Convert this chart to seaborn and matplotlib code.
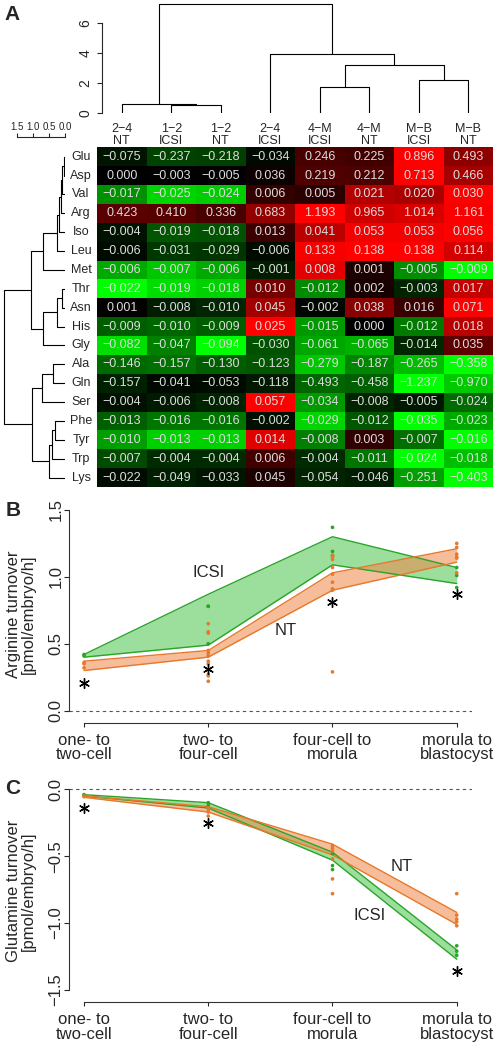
import numpy as np
import pandas as pd
import matplotlib.pyplot as plt
from matplotlib.colors import LinearSegmentedColormap
import seaborn as sns

sns.set_style("ticks")
plt.rcParams.update({
    "font.family": ["Liberation Sans", "DejaVu Sans"],
    "axes.linewidth": 0.8,
    "xtick.major.width": 0.8,
    "ytick.major.width": 0.8,
    "axes.unicode_minus": True,
})

W, H = 498, 1051

# ---- panel A data ----
samples = ["2−4\nNT", "1−2\nICSI", "1−2\nNT", "2−4\nICSI",
           "4−M\nICSI", "4−M\nNT", "M−B\nICSI", "M−B\nNT"]
amino_acids = ["Glu", "Asp", "Val", "Arg", "Iso", "Leu", "Met", "Thr", "Asn",
               "His", "Gly", "Ala", "Gln", "Ser", "Phe", "Tyr", "Trp", "Lys"]
turnover = np.array([
    [-0.075, -0.237, -0.218, -0.034, 0.246, 0.225, 0.896, 0.493],
    [0.000, -0.003, -0.005, 0.036, 0.219, 0.212, 0.713, 0.466],
    [-0.017, -0.025, -0.024, 0.006, 0.005, 0.021, 0.020, 0.030],
    [0.423, 0.410, 0.336, 0.683, 1.193, 0.965, 1.014, 1.161],
    [-0.004, -0.019, -0.018, 0.013, 0.041, 0.053, 0.053, 0.056],
    [-0.006, -0.031, -0.029, -0.006, 0.133, 0.138, 0.138, 0.114],
    [-0.006, -0.007, -0.006, -0.001, 0.008, 0.001, -0.005, -0.009],
    [-0.022, -0.019, -0.018, 0.010, -0.012, 0.002, -0.003, 0.017],
    [0.001, -0.008, -0.010, 0.045, -0.002, 0.038, 0.016, 0.071],
    [-0.009, -0.010, -0.009, 0.025, -0.015, 0.000, -0.012, 0.018],
    [-0.082, -0.047, -0.094, -0.030, -0.061, -0.065, -0.014, 0.035],
    [-0.146, -0.157, -0.130, -0.123, -0.279, -0.187, -0.265, -0.358],
    [-0.157, -0.041, -0.053, -0.118, -0.493, -0.458, -1.237, -0.970],
    [-0.004, -0.006, -0.008, 0.057, -0.034, -0.008, -0.005, -0.024],
    [-0.013, -0.016, -0.016, -0.002, -0.029, -0.012, -0.035, -0.023],
    [-0.010, -0.013, -0.013, 0.014, -0.008, 0.003, -0.007, -0.016],
    [-0.007, -0.004, -0.004, 0.006, -0.004, -0.011, -0.024, -0.018],
    [-0.022, -0.049, -0.033, 0.045, -0.054, -0.046, -0.251, -0.403],
])

# merges as (child a, child b, height); ids >= n are earlier merges
col_merges = [(1, 2, 0.52), (0, 8, 0.63), (4, 5, 1.72), (6, 7, 2.18),
              (10, 11, 3.18), (3, 12, 3.91), (9, 13, 7.25)]
row_merges = [(0, 1, 0.03), (18, 2, 0.08), (19, 3, 0.12), (20, 4, 0.18),
              (21, 5, 0.24), (22, 6, 0.70), (7, 8, 0.10), (24, 9, 0.26),
              (25, 10, 0.68), (23, 26, 1.07), (11, 12, 0.37), (28, 13, 0.73),
              (14, 15, 0.30), (30, 16, 0.42), (31, 17, 0.50), (29, 32, 1.04),
              (27, 33, 1.90)]

# ---- panels B and C data ----
stages = ["one- to\ntwo-cell", "two- to\nfour-cell",
          "four-cell to\nmorula", "morula to\nblastocyst"]

arg_icsi_hi = [0.42, 0.87, 1.30, 1.07]
arg_icsi_lo = [0.40, 0.49, 1.09, 0.95]
arg_nt_hi = [0.37, 0.45, 1.03, 1.21]
arg_nt_lo = [0.30, 0.40, 0.90, 1.11]
arg_icsi_pts = [[0.41, 0.42], [0.78, 0.78, 0.50], [1.37, 1.19, 1.16], [1.07, 1.01, 0.92]]
arg_nt_pts = [[0.36, 0.35, 0.32],
              [0.65, 0.59, 0.58, 0.45, 0.43, 0.41, 0.37, 0.35, 0.27, 0.26, 0.22],
              [1.16, 1.15, 1.13, 1.07, 1.02, 0.96, 0.91, 0.90, 0.29],
              [1.25, 1.22, 1.17, 1.15, 1.14, 1.03]]
arg_star_stage = [1, 2, 3, 4]
arg_star_val = [0.21, 0.31, 0.81, 0.87]

gln_icsi_hi = [-0.04, -0.10, -0.47, -1.20]
gln_icsi_lo = [-0.05, -0.14, -0.53, -1.27]
gln_nt_hi = [-0.05, -0.13, -0.41, -0.92]
gln_nt_lo = [-0.06, -0.17, -0.49, -1.01]
gln_icsi_pts = [[-0.04, -0.045], [-0.10, -0.12], [-0.48, -0.57, -0.60], [-1.17, -1.21, -1.24]]
gln_nt_pts = [[-0.05, -0.055], [-0.14, -0.15, -0.17, -0.20],
              [-0.42, -0.44, -0.46, -0.52, -0.67, -0.78],
              [-0.78, -0.94, -0.97, -0.99, -1.02]]
gln_star_stage = [1, 2, 4]
gln_star_val = [-0.14, -0.25, -1.36]

GREEN_LINE, GREEN_FILL = "#2AA52A", "#4CC44C"
ORANGE_LINE, ORANGE_FILL = "#E8782A", "#F0884A"

fig = plt.figure(figsize=(W / 100, H / 100), dpi=100)


def px_axes(x0, y0, x1, y1):
    return fig.add_axes([x0 / W, 1 - y1 / H, (x1 - x0) / W, (y1 - y0) / H])


def draw_dendrogram(ax, merges, n_leaves, horizontal=False):
    pos = {i: i + 0.5 for i in range(n_leaves)}
    hgt = {i: 0.0 for i in range(n_leaves)}
    for k, (a, b, h) in enumerate(merges):
        xs = [pos[a], pos[a], pos[b], pos[b]]
        ys = [hgt[a], h, h, hgt[b]]
        if horizontal:
            ax.plot(ys, xs, color="black", lw=0.8)
        else:
            ax.plot(xs, ys, color="black", lw=0.8)
        pos[n_leaves + k] = (pos[a] + pos[b]) / 2
        hgt[n_leaves + k] = h


# ---- heatmap ----
hm_top, hm_bot, hm_left, hm_right = 147.3, 487.0, 97, 493
shade = turnover / np.abs(turnover).max(axis=1, keepdims=True)
labels = np.array([[f"{v:.3f}".replace("-", "−") for v in row] for row in turnover])
cmap = LinearSegmentedColormap.from_list("greenred", ["#00FF00", "#000000", "#FF0000"])

ax_hm = px_axes(hm_left, hm_top, hm_right, hm_bot)
sns.heatmap(pd.DataFrame(shade, index=amino_acids, columns=samples), ax=ax_hm,
            cmap=cmap, vmin=-1, vmax=1, cbar=False, annot=labels, fmt="",
            annot_kws={"color": "#DCDCDC", "fontsize": 9},
            xticklabels=samples, yticklabels=amino_acids, linewidths=0)
ax_hm.xaxis.tick_top()
ax_hm.set_xticklabels(samples, rotation=0, fontsize=9, linespacing=0.92)
ax_hm.set_yticklabels(amino_acids, rotation=0, fontsize=9)
for lbl in ax_hm.get_yticklabels():
    lbl.set_horizontalalignment("center")
ax_hm.tick_params(axis="x", length=0, pad=0.5)
ax_hm.tick_params(axis="y", length=0, pad=11.5)
ax_hm.set_xlabel("")
ax_hm.set_ylabel("")

# column dendrogram
ax_cd = px_axes(hm_left, 3, hm_right, 113)
draw_dendrogram(ax_cd, col_merges, len(samples))
ax_cd.set_xlim(0, len(samples))
ax_cd.set_ylim(0, 7.33)
for s in ["top", "right", "bottom"]:
    ax_cd.spines[s].set_visible(False)
ax_cd.spines["left"].set_position(("data", 0.095))
ax_cd.spines["left"].set_bounds(0, 6)
ax_cd.set_xticks([])
ax_cd.set_yticks([0, 2, 4, 6])
ax_cd.set_yticklabels(["0", "2", "4", "6"], rotation=90, va="center", fontsize=10)
ax_cd.tick_params(axis="y", length=3.6, pad=3)
ax_cd.patch.set_alpha(0)

# row dendrogram
ax_rd = px_axes(2, hm_top, 65, hm_bot)
draw_dendrogram(ax_rd, row_merges, len(amino_acids), horizontal=True)
ax_rd.set_xlim(63 / 32, 0)
ax_rd.set_ylim(len(amino_acids), 0)
ax_rd.axis("off")

# distance scale above the row dendrogram
ax_sc = px_axes(2, 137, 65, 140)
ax_sc.set_xlim(63 / 32, 0)
for s in ["left", "right", "bottom"]:
    ax_sc.spines[s].set_visible(False)
ax_sc.spines["top"].set_bounds(0, 1.5)
ax_sc.xaxis.tick_top()
ax_sc.set_xticks([1.5, 1.0, 0.5, 0.0])
ax_sc.set_xticklabels(["1.5", "1.0", "0.5", "0.0"], fontsize=7)
ax_sc.tick_params(axis="x", length=3, pad=0.5)
ax_sc.set_yticks([])
ax_sc.patch.set_alpha(0)


# ---- line panels ----
def turnover_panel(ax, icsi_hi, icsi_lo, nt_hi, nt_lo, icsi_pts, nt_pts,
                   star_stage, star_val, yticks, ylim, ylabel, lab_icsi, lab_nt):
    x = np.arange(1, len(stages) + 1)
    ax.axhline(0, color="#555555", lw=0.8, ls=(0, (3, 3)))
    ax.fill_between(x, icsi_lo, icsi_hi, color=GREEN_FILL, alpha=0.55, lw=0)
    ax.plot(x, icsi_hi, color=GREEN_LINE, lw=1)
    ax.plot(x, icsi_lo, color=GREEN_LINE, lw=1)
    ax.fill_between(x, nt_lo, nt_hi, color=ORANGE_FILL, alpha=0.55, lw=0)
    ax.plot(x, nt_hi, color=ORANGE_LINE, lw=1)
    ax.plot(x, nt_lo, color=ORANGE_LINE, lw=1)

    rows = []
    for grp, pts in [("ICSI", icsi_pts), ("NT", nt_pts)]:
        for st, vals in zip(x, pts):
            for v in vals:
                rows.append({"stage": st, "value": v, "group": grp})
    pts_df = pd.DataFrame(rows)
    sns.scatterplot(data=pts_df, x="stage", y="value", hue="group",
                    palette={"ICSI": GREEN_LINE, "NT": ORANGE_LINE},
                    s=7, linewidth=0, legend=False, ax=ax, zorder=3)
    ax.scatter(star_stage, star_val, marker=(6, 2, 0), s=50, color="black",
               linewidths=1.0, zorder=4)
    ax.text(*lab_icsi, "ICSI", fontsize=12, ha="center", va="center")
    ax.text(*lab_nt, "NT", fontsize=12, ha="center", va="center")

    ax.set_xlim(0.879, 4.123)
    ax.set_ylim(*ylim)
    ax.set_xticks(x)
    ax.set_xticklabels(stages, fontsize=12, linespacing=0.98)
    ax.set_yticks(yticks)
    ax.set_yticklabels([f"{t:.1f}".replace("-", "−") for t in yticks],
                       rotation=90, va="center", fontsize=12)
    ax.tick_params(axis="x", length=3, pad=4)
    ax.tick_params(axis="y", length=3.5, pad=0.5)
    sns.despine(ax=ax)
    ax.spines["left"].set_bounds(yticks[0], yticks[-1])
    ax.spines["bottom"].set_bounds(1, 4)
    ax.spines["left"].set_color("#333333")
    ax.spines["bottom"].set_color("#333333")
    ax.set_xlabel("")
    ax.set_ylabel("")
    ax.patch.set_alpha(0)
    bb = ax.get_position()
    fig.text(21 / W, bb.y0 + bb.height / 2, ylabel, rotation=90, ha="center",
             va="center", fontsize=12, linespacing=0.96)


ax_b = px_axes(69, 505, 472, 723)
turnover_panel(ax_b, arg_icsi_hi, arg_icsi_lo, arg_nt_hi, arg_nt_lo,
               arg_icsi_pts, arg_nt_pts, arg_star_stage, arg_star_val,
               [0.0, 0.5, 1.0, 1.5], (-0.092, 1.537),
               "Arginine turnover\n[pmol/embryo/h]", (2.0, 1.03), (2.62, 0.60))

ax_c = px_axes(69, 780, 472, 1002.3)
turnover_panel(ax_c, gln_icsi_hi, gln_icsi_lo, gln_nt_hi, gln_nt_lo,
               gln_icsi_pts, gln_nt_pts, gln_star_stage, gln_star_val,
               [-1.5, -1.0, -0.5, 0.0], (-1.592, 0.0695),
               "Glutamine turnover\n[pmol/embryo/h]", (3.30, -0.94), (3.56, -0.575))

# panel letters
for letter, (lx, ly) in {"A": (12, 15), "B": (13, 510), "C": (13, 788)}.items():
    fig.text(lx / W, 1 - ly / H, letter, fontsize=15, fontweight="bold",
             ha="center", va="center")

fig.savefig("out.png", dpi=100)
